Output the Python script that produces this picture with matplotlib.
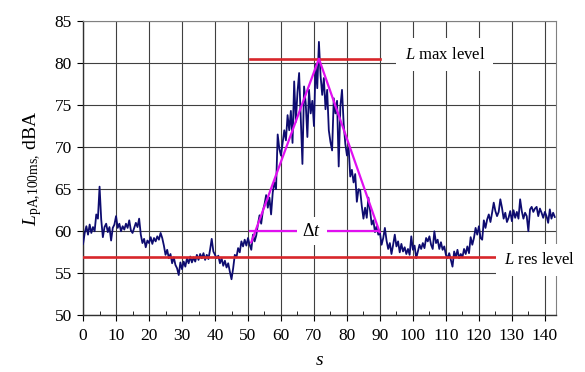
import numpy as np
import matplotlib
matplotlib.use("Agg")
import matplotlib.pyplot as plt

plt.rcParams['font.family'] = ['Liberation Serif', 'DejaVu Serif']
plt.rcParams['mathtext.fontset'] = 'custom'
plt.rcParams['mathtext.rm'] = 'Liberation Serif'
plt.rcParams['mathtext.it'] = 'Liberation Serif:italic'

# sound level L_pA,100ms, one value every 0.5 s from 0 s
t_start = 0.0
t_step = 0.5
level = [
    # 0 - 9.5 s
    58.5, 59.8, 60.6, 59.6, 60.8, 59.8, 60.5, 60.0, 62.0, 61.5,
    65.3, 61.4, 59.3, 60.5, 60.9, 59.9, 60.5, 58.9, 60.4, 60.8,
    # 10 - 19.5 s
    61.8, 60.4, 60.9, 60.0, 60.6, 60.2, 60.9, 60.4, 61.3, 60.1,
    59.8, 60.4, 61.0, 60.5, 61.5, 59.6, 58.6, 59.1, 58.1, 58.9,
    # 20 - 29.5 s
    58.6, 59.3, 58.5, 59.2, 58.8, 59.4, 59.0, 59.8, 59.2, 58.3,
    57.2, 57.8, 56.8, 57.3, 56.2, 56.9, 56.0, 55.6, 54.8, 56.3,
    # 30 - 39.5 s
    55.5, 56.4, 55.8, 56.8, 56.2, 57.0, 56.3, 56.9, 56.4, 57.2,
    56.6, 57.3, 56.8, 57.4, 56.6, 57.2, 56.7, 57.8, 59.1, 57.6,
    # 40 - 49.5 s
    57.2, 56.8, 57.1, 56.2, 56.8, 55.9, 56.5, 55.7, 56.2, 55.2,
    54.3, 55.6, 57.2, 56.9, 58.0, 57.5, 58.8, 58.2, 59.0, 58.3,
    # 50 - 59.5 s
    59.2, 58.4, 57.8, 59.6, 58.8, 59.5, 60.8, 61.9, 60.9, 62.4,
    63.2, 64.3, 62.8, 64.0, 62.0, 64.6, 65.8, 65.0, 71.5, 69.8,
    # 60 - 69.5 s
    69.0, 70.5, 72.0, 70.8, 73.8, 72.0, 74.3, 70.5, 77.8, 73.0,
    76.5, 78.8, 73.5, 68.0, 77.2, 75.2, 71.2, 76.8, 74.0, 75.5,
    # 70 - 79.5 s
    72.5, 79.8, 77.0, 82.5, 78.5, 76.2, 78.2, 74.5, 76.8, 72.0,
    70.6, 69.6, 75.8, 74.0, 75.5, 67.7, 74.8, 76.8, 72.8, 70.4,
    # 80 - 89.5 s
    69.0, 70.0, 66.5, 67.3, 65.8, 66.8, 63.5, 65.0, 64.9, 63.0,
    61.5, 62.8, 61.6, 64.0, 62.5, 60.8, 61.3, 59.9, 60.6, 59.6,
    # 90 - 99.5 s
    59.8, 58.4, 59.2, 60.4, 58.9, 57.9, 58.6, 57.3, 58.4, 59.6,
    58.2, 58.8, 57.5, 58.5, 57.6, 58.1, 57.3, 57.9, 57.2, 59.4,
    # 100 - 109.5 s
    57.8, 58.3, 56.8, 57.6, 58.4, 57.9, 58.6, 58.0, 59.2, 58.8,
    59.4, 58.4, 57.9, 60.0, 58.6, 59.0, 57.9, 58.7, 57.8, 58.2,
    # 110 - 119.5 s
    57.2, 56.8, 57.4, 56.6, 55.8, 57.6, 56.9, 57.8, 56.8, 57.3,
    56.9, 57.9, 57.3, 58.2, 57.4, 59.3, 58.4, 59.2, 60.4, 59.6,
    # 120 - 129.5 s
    60.6, 59.2, 59.0, 61.3, 60.4, 61.4, 62.0, 61.1, 62.2, 63.4,
    62.4, 61.8, 62.3, 63.8, 62.8, 61.5, 62.2, 61.1, 61.6, 62.4,
    # 130 - 143 s
    61.2, 62.5, 61.6, 62.3, 61.5, 63.8, 62.4, 61.5, 62.2, 61.8,
    60.0, 62.6, 62.9, 62.3, 62.7, 62.9, 61.8, 62.7, 62.2, 61.6,
    62.3, 61.8, 61.0, 62.6, 61.5, 62.2, 61.7,
]

# construction lines
lmax_level = 80.5
lmax_span = [50.5, 90.0]
lres_level = 57.0
lres_span = [0.0, 126.7]
tri_s = [51.0, 71.5, 89.9]
tri_l = [58.7, 80.5, 59.9]
dt_level = 60.0
dt_span = [50.5, 89.4]

t = t_start + t_step * np.arange(len(level))

fig = plt.figure(figsize=(5.85, 3.72), dpi=100)
ax = fig.add_axes([0.142, 0.152, 0.808, 0.792])

ax.plot(t, level, color='#0e0c70', lw=1.3, zorder=3)
ax.plot(lres_span, [lres_level, lres_level], color='#d8262a', lw=1.9, zorder=4)
ax.plot(lmax_span, [lmax_level, lmax_level], color='#d8262a', lw=1.9, zorder=4)
ax.plot(tri_s, tri_l, color='#e010f0', lw=1.6, zorder=5)
ax.plot(dt_span, [dt_level, dt_level], color='#e010f0', lw=1.6, zorder=5)

box = dict(facecolor='white', edgecolor='none', pad=4)
ax.text(69.3, dt_level, r'$\Delta t$', fontsize=13, ha='center', va='center',
        bbox=box, zorder=6)
ax.text(97.5, 81.0, r'$L$ max level', fontsize=12, ha='left', va='center',
        bbox=dict(facecolor='white', edgecolor='none', pad=6), zorder=6)
ax.text(127.6, 56.6, r'$L$ res level', fontsize=12, ha='left', va='center',
        bbox=dict(facecolor='white', edgecolor='none', pad=6), zorder=6,
        clip_on=False)

ax.set_xlim(0, 143.3)
ax.set_ylim(50, 85)
ax.set_xticks(np.arange(0, 141, 10))
ax.set_xticks(np.arange(5, 141, 10), minor=True)
ax.set_yticks(np.arange(50, 86, 5))
ax.grid(True, which='major', color='#404040', lw=0.8, zorder=0)
ax.set_axisbelow(True)
ax.tick_params(axis='x', which='major', direction='out', length=4, labelsize=12.5, pad=5)
ax.tick_params(axis='x', which='minor', direction='in', length=3)
ax.tick_params(axis='y', which='major', direction='out', length=4, labelsize=12.5, pad=4)

for side in ['top', 'right']:
    ax.spines[side].set_color('#808080')
for side in ['left', 'bottom']:
    ax.spines[side].set_color('#303030')
    ax.spines[side].set_linewidth(1.0)

ax.set_xlabel(r'$s$', fontsize=14, labelpad=6)
ax.set_ylabel(r'$L$$_{\rm pA{,}100ms{,}}$ dBA', fontsize=14, labelpad=8)

fig.savefig('out.png', dpi=100)
